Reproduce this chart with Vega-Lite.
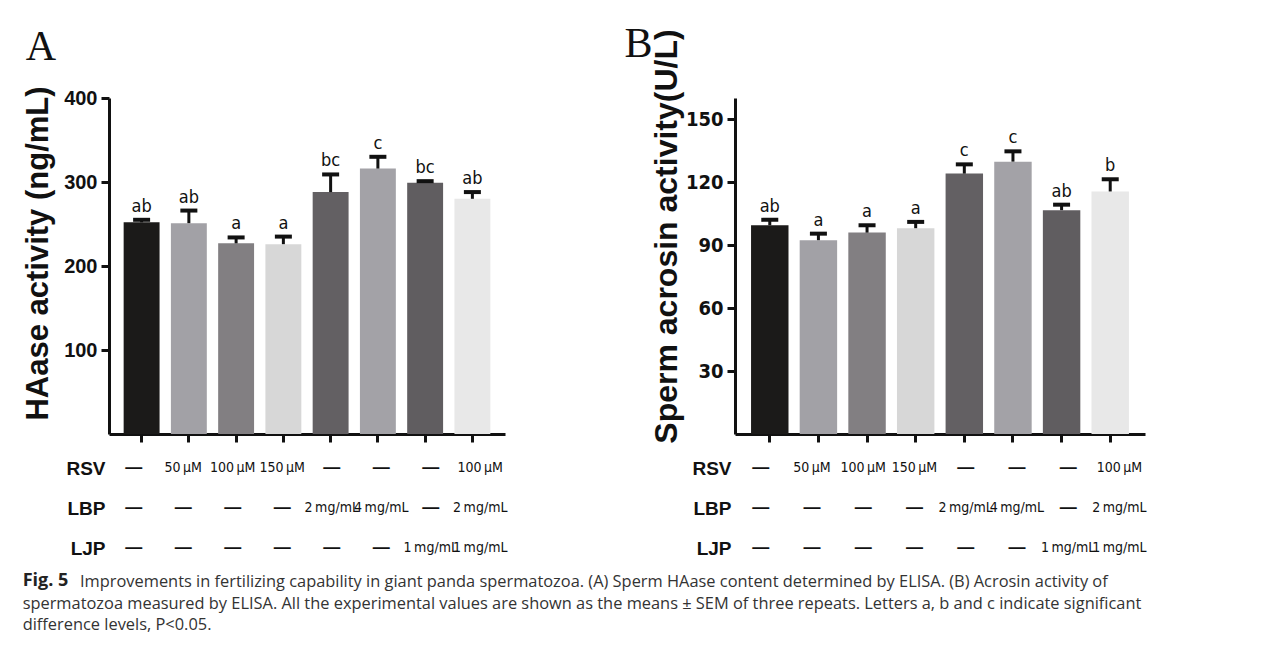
{
  "$schema": "https://vega.github.io/schema/vega-lite/v6.json",
  "background": "white",
  "padding": {"left": 22, "top": 22, "right": 5, "bottom": 5},
  "config": {
    "view": {"stroke": null},
    "font": "Liberation Sans",
    "axis": {"grid": false},
    "title": {"font": "Liberation Serif", "fontWeight": "normal", "fontSize": 42, "color": "#111", "anchor": "start"}
  },
  "datasets": {
    "hA": [
      {"group": "G1", "mean": 252, "upper": 255, "letter": "ab"},
      {"group": "G2", "mean": 251, "upper": 266, "letter": "ab"},
      {"group": "G3", "mean": 227, "upper": 234, "letter": "a"},
      {"group": "G4", "mean": 226, "upper": 235, "letter": "a"},
      {"group": "G5", "mean": 288, "upper": 309, "letter": "bc"},
      {"group": "G6", "mean": 316, "upper": 330, "letter": "c"},
      {"group": "G7", "mean": 299, "upper": 301, "letter": "bc"},
      {"group": "G8", "mean": 280, "upper": 288, "letter": "ab"}
    ],
    "hB": [
      {"group": "G1", "mean": 99.4, "upper": 102, "letter": "ab"},
      {"group": "G2", "mean": 92.3, "upper": 95.4, "letter": "a"},
      {"group": "G3", "mean": 95.9, "upper": 99.4, "letter": "a"},
      {"group": "G4", "mean": 98, "upper": 101, "letter": "a"},
      {"group": "G5", "mean": 124, "upper": 128.4, "letter": "c"},
      {"group": "G6", "mean": 129.7, "upper": 134.6, "letter": "c"},
      {"group": "G7", "mean": 106.6, "upper": 109.2, "letter": "ab"},
      {"group": "G8", "mean": 115.5, "upper": 121.3, "letter": "b"}
    ],
    "tbl": [
      {"group": "G1", "factor": "RSV", "value": "—"},
      {"group": "G2", "factor": "RSV", "value": "50\u2009µM"},
      {"group": "G3", "factor": "RSV", "value": "100\u2009µM"},
      {"group": "G4", "factor": "RSV", "value": "150\u2009µM"},
      {"group": "G5", "factor": "RSV", "value": "—"},
      {"group": "G6", "factor": "RSV", "value": "—"},
      {"group": "G7", "factor": "RSV", "value": "—"},
      {"group": "G8", "factor": "RSV", "value": "100\u2009µM"},
      {"group": "G1", "factor": "LBP", "value": "—"},
      {"group": "G2", "factor": "LBP", "value": "—"},
      {"group": "G3", "factor": "LBP", "value": "—"},
      {"group": "G4", "factor": "LBP", "value": "—"},
      {"group": "G5", "factor": "LBP", "value": "2\u2009mg/mL"},
      {"group": "G6", "factor": "LBP", "value": "4\u2009mg/mL"},
      {"group": "G7", "factor": "LBP", "value": "—"},
      {"group": "G8", "factor": "LBP", "value": "2\u2009mg/mL"},
      {"group": "G1", "factor": "LJP", "value": "—"},
      {"group": "G2", "factor": "LJP", "value": "—"},
      {"group": "G3", "factor": "LJP", "value": "—"},
      {"group": "G4", "factor": "LJP", "value": "—"},
      {"group": "G5", "factor": "LJP", "value": "—"},
      {"group": "G6", "factor": "LJP", "value": "—"},
      {"group": "G7", "factor": "LJP", "value": "1\u2009mg/mL"},
      {"group": "G8", "factor": "LJP", "value": "1\u2009mg/mL"}
    ]
  },
  "title": {
    "text": [
      "\u200b\u2003\u2003\u2003\u2002Improvements in fertilizing capability in giant panda spermatozoa. (A) Sperm HAase content determined by ELISA. (B) Acrosin activity of",
      "spermatozoa measured by ELISA. All the experimental values are shown as the means ± SEM of three repeats. Letters a, b and c indicate significant",
      "difference levels, P<0.05."
    ],
    "orient": "bottom",
    "anchor": "start",
    "font": "Open Sans",
    "fontSize": 16.4,
    "fontWeight": "normal",
    "color": "#333",
    "lineHeight": 21.5,
    "offset": 4,
    "dy": -20
  },
  "vconcat": [
    {
      "title": {"text": "Fig. 5", "orient": "bottom", "anchor": "start", "font": "Open Sans", "fontSize": 18, "fontWeight": "bold", "color": "#222", "offset": 4},
      "spacing": 116,
      "hconcat": [
        {
          "title": {"text": "A", "dy": -13, "dx": 3},
          "spacing": 4,
          "vconcat": [
            {
              "width": 396,
              "height": 336,
              "data": {"name": "hA"},
              "encoding": {
                "x": {"field": "group", "type": "nominal", "sort": ["G1","G2","G3","G4","G5","G6","G7","G8"],
                  "scale": {"paddingInner": 0.24, "paddingOuter": 0.31},
                  "axis": {"labels": false, "title": null, "domainWidth": 3, "domainColor": "#111", "tickWidth": 3, "tickColor": "#111", "tickSize": 8}}
              },
              "layer": [
                {
                  "mark": {"type": "bar"},
                  "encoding": {
                    "y": {"field": "mean", "type": "quantitative", "scale": {"domain": [0, 400]},
                      "axis": {"values": [100, 200, 300, 400], "title": "HAase activity (ng/mL)", "titleFontSize": 31, "titleFontWeight": "bold", "titleColor": "#111", "titlePadding": 9, "titleY": 155,
                        "labelFontSize": 20, "labelFontWeight": "bold", "labelColor": "#111", "labelPadding": 4,
                        "domainWidth": 3, "domainColor": "#111", "tickWidth": 3, "tickColor": "#111", "tickSize": 8}},
                    "color": {"field": "group", "type": "nominal", "legend": null,
                      "scale": {"domain": ["G1","G2","G3","G4","G5","G6","G7","G8"], "range": ["#1b1a19","#a2a1a6","#827f82","#d7d7d7","#636063","#a3a2a7","#605d60","#e8e8e8"]}}
                  }
                },
                {
                  "mark": {"type": "rule", "strokeWidth": 3, "color": "#111"},
                  "encoding": {"y": {"field": "mean", "type": "quantitative"}, "y2": {"field": "upper"}}
                },
                {
                  "mark": {"type": "tick", "orient": "horizontal", "size": 17, "thickness": 4, "color": "#111", "opacity": 1},
                  "encoding": {"y": {"field": "upper", "type": "quantitative"}}
                },
                {
                  "mark": {"type": "text", "baseline": "alphabetic", "dy": -8, "fontSize": 18, "font": "Liberation Sans Narrow, DejaVu Sans Condensed, Liberation Sans", "color": "#111"},
                  "encoding": {"y": {"field": "upper", "type": "quantitative"}, "text": {"field": "letter"}}
                }
              ]
            },
            {
              "width": 396,
              "height": 120,
              "data": {"name": "tbl"},
              "encoding": {
                "x": {"field": "group", "type": "nominal", "sort": ["G1","G2","G3","G4","G5","G6","G7","G8"], "scale": {"paddingInner": 0.24, "paddingOuter": 0.31}, "axis": null},
                "y": {"field": "factor", "type": "nominal", "sort": ["RSV", "LBP", "LJP"],
                  "axis": {"title": null, "domain": false, "ticks": false, "labelFontSize": 19, "labelFontWeight": "bold", "labelColor": "#111", "labelPadding": 4}},
                "text": {"field": "value"}
              },
              "layer": [
                {"transform": [{"filter": "datum.value === '—'"}], "mark": {"type": "text", "fontWeight": "bold", "fontSize": 17, "color": "#111"}},
                {"transform": [{"filter": "datum.value !== '—'"}], "mark": {"type": "text", "fontSize": 14, "font": "Liberation Sans Narrow, DejaVu Sans Condensed, Liberation Sans", "color": "#111"}}
              ]
            }
          ]
        },
        {
          "title": {"text": "B", "dy": 41, "dx": -26},
          "spacing": 4,
          "vconcat": [
            {
              "width": 410,
              "height": 336,
              "data": {"name": "hB"},
              "encoding": {
                "x": {"field": "group", "type": "nominal", "sort": ["G1","G2","G3","G4","G5","G6","G7","G8"],
                  "scale": {"paddingInner": 0.23, "paddingOuter": 0.33},
                  "axis": {"labels": false, "title": null, "domainWidth": 3, "domainColor": "#111", "tickWidth": 3, "tickColor": "#111", "tickSize": 8}}
              },
              "layer": [
                {
                  "mark": {"type": "bar"},
                  "encoding": {
                    "y": {"field": "mean", "type": "quantitative", "scale": {"domain": [0, 150]},
                      "axis": {"values": [30, 60, 90, 120, 150], "title": "Sperm acrosin activity(U/L)", "titleFontSize": 32, "titleFontWeight": "bold", "titleColor": "#111", "titlePadding": 2, "titleY": 138,
                        "labelFontSize": 20, "labelFont": "Liberation Sans Narrow, DejaVu Sans Condensed, Liberation Sans", "labelFontWeight": "bold", "labelColor": "#111", "labelPadding": 4,
                        "domainWidth": 3, "domainColor": "#111", "tickWidth": 3, "tickColor": "#111", "tickSize": 8}},
                    "color": {"field": "group", "type": "nominal", "legend": null,
                      "scale": {"domain": ["G1","G2","G3","G4","G5","G6","G7","G8"], "range": ["#1b1a19","#a2a1a6","#827f82","#d7d7d7","#636063","#a3a2a7","#605d60","#e8e8e8"]}}
                  }
                },
                {
                  "mark": {"type": "rule", "strokeWidth": 3, "color": "#111"},
                  "encoding": {"y": {"field": "mean", "type": "quantitative"}, "y2": {"field": "upper"}}
                },
                {
                  "mark": {"type": "tick", "orient": "horizontal", "size": 17, "thickness": 4, "color": "#111", "opacity": 1},
                  "encoding": {"y": {"field": "upper", "type": "quantitative"}}
                },
                {
                  "mark": {"type": "text", "baseline": "alphabetic", "dy": -8, "fontSize": 18, "font": "Liberation Sans Narrow, DejaVu Sans Condensed, Liberation Sans", "color": "#111"},
                  "encoding": {"y": {"field": "upper", "type": "quantitative"}, "text": {"field": "letter"}}
                }
              ]
            },
            {
              "width": 410,
              "height": 120,
              "data": {"name": "tbl"},
              "encoding": {
                "x": {"field": "group", "type": "nominal", "sort": ["G1","G2","G3","G4","G5","G6","G7","G8"], "scale": {"paddingInner": 0.23, "paddingOuter": 0.33}, "axis": null},
                "y": {"field": "factor", "type": "nominal", "sort": ["RSV", "LBP", "LJP"],
                  "axis": {"title": null, "domain": false, "ticks": false, "labelFontSize": 19, "labelFontWeight": "bold", "labelColor": "#111", "labelPadding": 4}},
                "text": {"field": "value"}
              },
              "layer": [
                {"transform": [{"filter": "datum.value === '—'"}], "mark": {"type": "text", "fontWeight": "bold", "fontSize": 17, "color": "#111"}},
                {"transform": [{"filter": "datum.value !== '—'"}], "mark": {"type": "text", "fontSize": 14, "font": "Liberation Sans Narrow, DejaVu Sans Condensed, Liberation Sans", "color": "#111"}}
              ]
            }
          ]
        }
      ]
    }
  ]
}
